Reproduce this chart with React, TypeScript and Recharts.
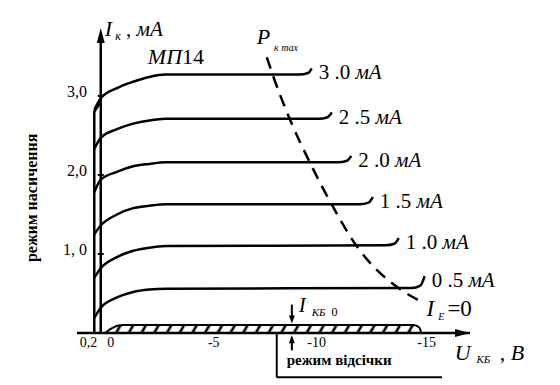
import React from 'react';
import {
  ComposedChart,
  Line,
  Area,
  XAxis,
  YAxis,
  ReferenceLine,
  ReferenceDot,
} from 'recharts';

// Output characteristics of МП14, common base: I_K (mA) vs U_KB (V)
const X_TICKS = [0.2, 0, -5, -10, -15];
const X_TICK_LABELS = ['0,2', '0', '-5', '-10', '-15'];
const Y_TICKS = [1, 2, 3];
const Y_TICK_LABELS = ['1, 0', '2,0', '3,0'];

const CURVE_LABELS = ['3 .0', '2 .5', '2 .0', '1 .5', '1 .0', '0 .5'];

const IE_30 = [
  { u: 0.3, i: 2.82 }, { u: 0, i: 2.97 }, { u: -0.75, i: 3.1 }, { u: -1.5, i: 3.18 },
  { u: -2.25, i: 3.24 }, { u: -3, i: 3.27 }, { u: -9.2, i: 3.27 }, { u: -9.6, i: 3.29 },
  { u: -9.77, i: 3.35 },
];
const IE_25 = [
  { u: 0.3, i: 2.33 }, { u: 0, i: 2.47 }, { u: -0.75, i: 2.58 }, { u: -1.5, i: 2.65 },
  { u: -2.25, i: 2.69 }, { u: -3, i: 2.71 }, { u: -10.1, i: 2.71 }, { u: -10.5, i: 2.73 },
  { u: -10.7, i: 2.79 },
];
const IE_20 = [
  { u: 0.3, i: 1.78 }, { u: 0, i: 1.94 }, { u: -0.75, i: 2.04 }, { u: -1.5, i: 2.11 },
  { u: -2.25, i: 2.14 }, { u: -3, i: 2.16 }, { u: -11.0, i: 2.16 }, { u: -11.4, i: 2.18 },
  { u: -11.6, i: 2.24 },
];
const IE_15 = [
  { u: 0.3, i: 1.25 }, { u: 0, i: 1.36 }, { u: -0.75, i: 1.5 }, { u: -1.5, i: 1.58 },
  { u: -2.25, i: 1.61 }, { u: -3, i: 1.63 }, { u: -12.0, i: 1.63 }, { u: -12.4, i: 1.65 },
  { u: -12.6, i: 1.72 },
];
const IE_10 = [
  { u: 0.3, i: 0.7 }, { u: 0, i: 0.82 }, { u: -0.75, i: 0.96 }, { u: -1.5, i: 1.04 },
  { u: -2.25, i: 1.08 }, { u: -3, i: 1.1 }, { u: -13.2, i: 1.11 }, { u: -13.6, i: 1.13 },
  { u: -13.8, i: 1.2 },
];
const IE_05 = [
  { u: 0.3, i: 0.19 }, { u: 0, i: 0.32 }, { u: -0.75, i: 0.45 }, { u: -1.5, i: 0.52 },
  { u: -2.25, i: 0.55 }, { u: -3, i: 0.56 }, { u: -14.4, i: 0.57 }, { u: -14.8, i: 0.6 },
  { u: -15.0, i: 0.72 },
];
const CURVES = [IE_30, IE_25, IE_20, IE_15, IE_10, IE_05];

// I_E = 0 (I_KB0) band
const IE_0 = [
  { u: -0.2, i: 0 }, { u: -0.5, i: 0.06 }, { u: -1.0, i: 0.1 }, { u: -14.5, i: 0.1 },
  { u: -14.75, i: 0.07 }, { u: -14.85, i: 0 },
];

// saturation region edge
const SAT_EDGE = [
  { u: 0.3, i: 0 }, { u: 0.3, i: 2.8 }, { u: 0, i: 2.93 },
];

// P_k max hyperbola
const P_MAX = [
  { u: -7.69, i: 3.49 }, { u: -7.96, i: 3.27 }, { u: -8.75, i: 2.71 }, { u: -9.68, i: 2.16 },
  { u: -10.69, i: 1.63 }, { u: -11.85, i: 1.1 }, { u: -13.84, i: 0.56 }, { u: -14.68, i: 0.42 },
];

const FONT = '"Liberation Serif", serif';
const TXT = { fontFamily: FONT };
const X_TICK_DX = [-8, 10, 5, 0, 2];

const XTick = (props: any) => {
  const idx = X_TICKS.indexOf(props.payload.value);
  return (
    <text x={props.x + (X_TICK_DX[idx] ?? 0)} y={props.y} dy={6} textAnchor="middle" fontSize={14} style={TXT} fill="#000">
      {X_TICK_LABELS[idx]}
    </text>
  );
};

const YTick = (props: any) => {
  const idx = Y_TICKS.indexOf(props.payload.value);
  return (
    <text x={props.x + 18} y={props.y} dy={1} textAnchor="end" fontSize={16} style={TXT} fill="#000">
      {Y_TICK_LABELS[idx]}
    </text>
  );
};

const note = (key: string, u: number, i: number, node: React.ReactNode) => (
  <ReferenceDot
    key={key}
    x={u}
    y={i}
    r={0}
    ifOverflow="visible"
    shape={(p: any) => <g transform={`translate(${p.cx},${p.cy})`} style={TXT} fill="#000">{node}</g>}
  />
);

const head = (key: string, u: number, i: number, dir: 'up' | 'down' | 'right', size = 14, w = 4) => (
  <ReferenceDot
    key={key}
    x={u}
    y={i}
    r={0}
    ifOverflow="visible"
    shape={(p: any) => {
      const { cx, cy } = p;
      const pts =
        dir === 'up'
          ? `${cx},${cy} ${cx - w},${cy + size} ${cx + w},${cy + size}`
          : dir === 'down'
          ? `${cx},${cy} ${cx - w},${cy - size} ${cx + w},${cy - size}`
          : `${cx},${cy} ${cx - size},${cy - w} ${cx - size},${cy + w}`;
      return <polygon points={pts} fill="#000" />;
    }}
  />
);

const seg = (key: string, a: [number, number], b: [number, number], w = 2.5) => (
  <ReferenceLine
    key={key}
    segment={[{ x: a[0], y: a[1] }, { x: b[0], y: b[1] }]}
    stroke="#000"
    strokeWidth={w}
    ifOverflow="visible"
  />
);

const curveLabel = (text: string, last: number) => (p: any) => {
  if (p.index !== last) return null;
  return (
    <text x={p.x + 7} y={p.y + 11} fontSize={21} style={TXT} fill="#000">
      {text + ' '}
      <tspan fontStyle="italic">мА</tspan>
    </text>
  );
};

export default function App() {
  return (
    <div style={{ position: 'absolute', left: 0, top: 0, width: 560, height: 385, background: '#fff', fontFamily: FONT }}>
      <svg width={0} height={0} style={{ position: 'absolute' }}>
        <defs>
          <pattern id="hatch" patternUnits="userSpaceOnUse" width={11} height={11} patternTransform="rotate(30)">
            <line x1={3} y1={0} x2={3} y2={11} stroke="#000" strokeWidth={2.6} />
          </pattern>
        </defs>
      </svg>
      <ComposedChart width={560} height={385} margin={{ top: 28, right: 90, bottom: 22, left: 0 }}>
        <XAxis
          type="number"
          dataKey="u"
          domain={[-17.1, 1.1]}
          reversed
          ticks={X_TICKS}
          interval={0}
          tick={<XTick />}
          tickLine={false}
          axisLine={{ stroke: '#000', strokeWidth: 2.5 }}
          height={30}
          allowDataOverflow
        />
        <YAxis
          type="number"
          dataKey="i"
          domain={[0, 3.86]}
          ticks={Y_TICKS}
          interval={0}
          tick={<YTick />}
          tickLine={false}
          axisLine={false}
          width={77}
          allowDataOverflow
        />

        <Area
          data={IE_0}
          dataKey="i"
          type="monotone"
          stroke="#000"
          strokeWidth={2}
          fill="url(#hatch)"
          fillOpacity={1}
          isAnimationActive={false}
          dot={false}
          activeDot={false}
        />

        {CURVES.map((d, k) => (
          <Line
            key={k}
            data={d}
            dataKey="i"
            type="monotone"
            stroke="#000"
            strokeWidth={2.5}
            dot={false}
            activeDot={false}
            isAnimationActive={false}
            label={curveLabel(CURVE_LABELS[k], d.length - 1)}
          />
        ))}

        <Line
          data={SAT_EDGE}
          dataKey="i"
          type="linear"
          stroke="#000"
          strokeWidth={2.5}
          dot={false}
          activeDot={false}
          isAnimationActive={false}
        />

        <Line
          data={P_MAX}
          dataKey="i"
          type="monotone"
          stroke="#000"
          strokeWidth={2.5}
          strokeDasharray="12 8"
          dot={false}
          activeDot={false}
          isAnimationActive={false}
        />

        {/* axes drawn through the origin */}
        {seg('yaxis', [0, 0], [0, 3.7])}
        {head('yhead', 0, 3.86, 'up', 15, 4)}
        {head('xhead', -17.1, 0, 'right', 15, 4)}
        {Y_TICKS.map((t) => seg(`yt${t}`, [0.14, t], [-0.14, t], 2))}

        {/* I_KB0 arrows */}
        {seg('a1', [-8.85, 0.36], [-8.85, 0.2], 2)}
        {head('a1h', -8.85, 0.12, 'down', 8, 3)}
        {seg('a2', [-8.85, -0.22], [-8.85, -0.1], 2)}
        {head('a2h', -8.85, -0.03, 'up', 8, 3)}

        {/* cut-off region bracket */}
        {seg('b1', [-8.15, 0], [-8.15, -0.56], 2)}
        {seg('b2', [-8.15, -0.56], [-15.8, -0.56], 2)}

        {note('ik', -0.19, 3.76, (
          <text fontSize={22}>
            <tspan fontStyle="italic">I</tspan>
            <tspan fontSize={12} fontStyle="italic" dx={3} dy={4}>к</tspan>
            <tspan fontSize={21} dy={-4}> , </tspan>
            <tspan fontSize={21} fontStyle="italic">мА</tspan>
          </text>
        ))}
        {note('mp', -2.18, 3.4, (
          <text fontSize={22}>
            <tspan fontStyle="italic">МП</tspan>
            <tspan>14</tspan>
          </text>
        ))}
        {note('pk', -7.22, 3.66, (
          <text fontSize={22}>
            <tspan fontStyle="italic">P</tspan>
            <tspan fontSize={10} fontStyle="italic" dx={4} dy={7}>к max</tspan>
          </text>
        ))}
        {note('ikb', -9.17, 0.27, (
          <text fontSize={21}>
            <tspan fontStyle="italic">I</tspan>
            <tspan fontSize={11} fontStyle="italic" dx={6} dy={4}>КБ</tspan>
            <tspan fontSize={12} dx={6}>0</tspan>
          </text>
        ))}
        {note('ie', -15.09, 0.215, (
          <text fontSize={23}>
            <tspan fontStyle="italic">I</tspan>
            <tspan fontSize={10} fontStyle="italic" dx={4} dy={4}>Е</tspan>
            <tspan dx={3} dy={-4}>=0</tspan>
          </text>
        ))}
        {note('ukb', -16.39, -0.34, (
          <text fontSize={22}>
            <tspan fontStyle="italic">U</tspan>
            <tspan fontSize={11} fontStyle="italic" dx={6} dy={3}>КБ</tspan>
            <tspan dx={4} dy={-3}> , </tspan>
            <tspan fontStyle="italic">В</tspan>
          </text>
        ))}
        {note('cut', -8.61, -0.405, (
          <text fontSize={15} fontWeight="bold">режим відсічки</text>
        ))}
        {note('sat', 3.19, 1.71, (
          <text fontSize={16} fontWeight="bold" textAnchor="middle" transform="rotate(-90)" dy={5}>
            режим насичення
          </text>
        ))}
      </ComposedChart>
    </div>
  );
}
